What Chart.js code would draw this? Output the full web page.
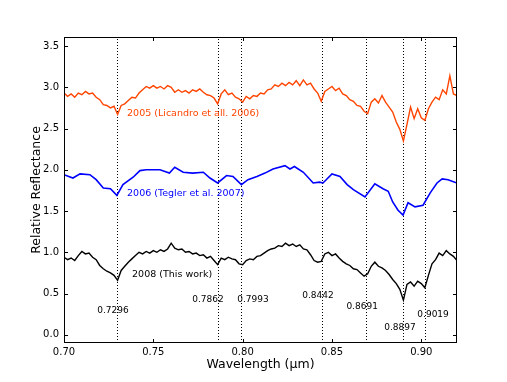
<!DOCTYPE html>
<html>
<head>
<meta charset="utf-8">
<script src="https://cdn.jsdelivr.net/npm/chart.js@4.4.1/dist/chart.umd.min.js"></script>
<style>
  html, body { margin: 0; padding: 0; background: #fff; }
  canvas { display: block; }
</style>
</head>
<body>
<canvas id="spec" width="507" height="382"></canvas>
<script>
/* data */
const wavelength = [
  0.700, 0.702, 0.704, 0.706, 0.708, 0.710, 0.712, 0.714, 0.716, 0.718,
  0.720, 0.722, 0.724, 0.726, 0.728, 0.730, 0.732, 0.734, 0.736, 0.738,
  0.740, 0.742, 0.744, 0.746, 0.748, 0.750, 0.752, 0.754, 0.756, 0.758,
  0.760, 0.762, 0.764, 0.766, 0.768, 0.770, 0.772, 0.774, 0.776, 0.778,
  0.780, 0.782, 0.784, 0.786, 0.788, 0.790, 0.792, 0.794, 0.796, 0.798,
  0.800, 0.802, 0.804, 0.806, 0.808, 0.810, 0.812, 0.814, 0.816, 0.818,
  0.820, 0.822, 0.824, 0.826, 0.828, 0.830, 0.832, 0.834, 0.836, 0.838,
  0.840, 0.842, 0.844, 0.846, 0.848, 0.850, 0.852, 0.854, 0.856, 0.858,
  0.860, 0.862, 0.864, 0.866, 0.868, 0.870, 0.872, 0.874, 0.876, 0.878,
  0.880, 0.882, 0.884, 0.886, 0.888, 0.890, 0.892, 0.894, 0.896, 0.898,
  0.900, 0.902, 0.904, 0.906, 0.908, 0.910, 0.912, 0.914, 0.916, 0.918,
  0.920
];

const refl2005 = [
  2.93, 2.89, 2.92, 2.88, 2.93, 2.91, 2.95, 2.92, 2.93, 2.88,
  2.85, 2.79, 2.78, 2.75, 2.77, 2.67, 2.78, 2.80, 2.84, 2.88,
  2.87, 2.93, 2.97, 3.01, 2.99, 3.02, 2.99, 3.01, 2.98, 3.02,
  3.00, 2.94, 2.97, 2.94, 2.96, 2.93, 2.97, 2.95, 2.98, 2.94,
  2.91, 2.90, 2.87, 2.80, 2.92, 2.97, 2.91, 2.93, 2.88, 2.86,
  2.82, 2.89, 2.86, 2.90, 2.89, 2.93, 2.92, 2.97, 2.98, 3.03,
  3.01, 3.05, 3.02, 3.06, 3.03, 3.08, 3.02, 3.09, 3.03, 3.05,
  2.98, 2.93, 2.83, 2.95, 2.98, 3.01, 2.96, 2.99, 2.92, 2.90,
  2.85, 2.83, 2.78, 2.77, 2.71, 2.68, 2.82, 2.86, 2.81, 2.90,
  2.82, 2.76, 2.70, 2.58, 2.49, 2.35, 2.55, 2.76, 2.62, 2.74,
  2.63, 2.60, 2.74, 2.82, 2.88, 2.85, 2.97, 2.92, 3.14, 2.92,
  2.90
];

const refl2008 = [
  0.94, 0.91, 0.93, 0.90, 0.96, 1.01, 0.98, 0.99, 0.94, 0.91,
  0.84, 0.80, 0.77, 0.75, 0.72, 0.66, 0.78, 0.83, 0.88, 0.92,
  0.96, 1.00, 0.98, 1.01, 0.99, 1.02, 1.00, 1.03, 1.01, 1.04,
  1.11, 1.05, 1.03, 1.04, 1.00, 1.01, 0.98, 0.99, 0.96, 0.97,
  0.93, 0.95, 0.90, 0.85, 0.93, 0.91, 0.94, 0.92, 0.91, 0.86,
  0.85, 0.90, 0.92, 0.91, 0.95, 0.96, 0.99, 1.02, 1.04, 1.05,
  1.08, 1.07, 1.11, 1.08, 1.10, 1.07, 1.09, 1.04, 1.03, 0.97,
  0.90, 0.88, 0.89, 0.98, 1.00, 0.96, 0.98, 0.93, 0.89, 0.86,
  0.84, 0.80, 0.79, 0.75, 0.71, 0.74, 0.83, 0.88, 0.83, 0.81,
  0.78, 0.73, 0.67, 0.62, 0.55, 0.42, 0.61, 0.64, 0.59, 0.65,
  0.62, 0.57, 0.72, 0.86, 0.91, 0.99, 0.96, 1.02, 0.98, 0.95,
  0.90
];

const wavelength2006 = [
  0.700, 0.705, 0.709, 0.7145, 0.718, 0.722, 0.726, 0.7296, 0.733, 0.7387,
  0.7425, 0.746, 0.7537, 0.759, 0.762, 0.7667, 0.772, 0.778, 0.7817, 0.786,
  0.791, 0.7946, 0.7993, 0.803, 0.808, 0.8125, 0.817, 0.8237, 0.8265, 0.829,
  0.834, 0.8395, 0.843, 0.845, 0.850, 0.8545, 0.8585, 0.862, 0.8685, 0.874,
  0.8786, 0.8815, 0.884, 0.887, 0.8898, 0.8926, 0.8965, 0.901, 0.905, 0.9088,
  0.9117, 0.915, 0.920
];
const refl2006 = [
  1.94, 1.90, 1.95, 1.94, 1.88, 1.78, 1.77, 1.69, 1.82, 1.91,
  1.99, 2.00, 2.00, 1.96, 2.03, 1.97, 1.96, 1.97, 1.90, 1.84,
  1.93, 1.92, 1.82, 1.88, 1.92, 1.96, 2.01, 2.05, 2.01, 2.04,
  1.97, 1.84, 1.85, 1.84, 1.95, 1.92, 1.82, 1.76, 1.67, 1.83,
  1.77, 1.74, 1.61, 1.51, 1.45, 1.60, 1.55, 1.57, 1.72, 1.84,
  1.89, 1.88, 1.84
];

// absorption features marked with dotted lines
const bandCentres = [0.7296, 0.7862, 0.7993, 0.8442, 0.8691, 0.8897, 0.9019];

const xTicks = [0.70, 0.75, 0.80, 0.85, 0.90];
const yTicks = [0.0, 0.5, 1.0, 1.5, 2.0, 2.5, 3.0, 3.5];

/* where the annotation texts sit (data units) */
const bandLabelPos = [
  [0.7274, 0.29], [0.7806, 0.42], [0.8058, 0.42], [0.8422, 0.47],
  [0.8669, 0.34], [0.8881, 0.085], [0.9066, 0.24]
];
const seriesLabels = [
  { text: "2005 (Licandro et all. 2006)", x: 0.7353, y: 2.68, color: "#ff4500" },
  { text: "2006 (Tegler et al. 2007)", x: 0.7353, y: 1.71, color: "#0000ff" },
  { text: "2008 (This work)", x: 0.7381, y: 0.73, color: "#000000" },
];

const FONT = "'DejaVu Sans', 'Liberation Sans', sans-serif";

const pts = (xs, ys) => xs.map((x, i) => ({ x, y: ys[i] }));

// matplotlib-ish frame: box, inward ticks on all sides, dotted band lines, texts
const mplFrame = {
  id: "mplFrame",
  beforeDatasetsDraw(chart) {
    const { ctx, chartArea: { top, bottom }, scales: { x } } = chart;
    ctx.save();
    ctx.strokeStyle = "#000";
    ctx.lineWidth = 1;
    ctx.setLineDash([1, 2]);
    bandCentres.forEach((w) => {
      const px = Math.round(x.getPixelForValue(w)) + 0.5;
      ctx.beginPath();
      ctx.moveTo(px, bottom);
      ctx.lineTo(px, top);
      ctx.stroke();
    });
    ctx.restore();
  },
  afterDatasetsDraw(chart) {
    const { ctx, chartArea: { left, right, top, bottom }, scales: { x, y } } = chart;
    ctx.save();
    ctx.strokeStyle = "#000";
    ctx.lineWidth = 1;
    ctx.strokeRect(left + 0.5, top + 0.5, right - left - 1, bottom - top - 1);

    const tl = 4;
    ctx.beginPath();
    xTicks.forEach((v) => {
      const px = Math.round(x.getPixelForValue(v)) + 0.5;
      ctx.moveTo(px, bottom); ctx.lineTo(px, bottom - tl);
      ctx.moveTo(px, top); ctx.lineTo(px, top + tl);
    });
    yTicks.forEach((v) => {
      const py = Math.round(y.getPixelForValue(v)) + 0.5;
      ctx.moveTo(left, py); ctx.lineTo(left + tl, py);
      ctx.moveTo(right, py); ctx.lineTo(right - tl, py);
    });
    ctx.stroke();

    ctx.fillStyle = "#000";
    ctx.font = "9px " + FONT;
    ctx.textAlign = "center";
    ctx.textBaseline = "middle";
    bandCentres.forEach((w, i) => {
      const [lx, ly] = bandLabelPos[i];
      ctx.fillText(w.toFixed(4), x.getPixelForValue(lx), y.getPixelForValue(ly));
    });

    ctx.font = "9.5px " + FONT;
    ctx.textAlign = "left";
    seriesLabels.forEach((s) => {
      ctx.fillStyle = s.color;
      ctx.fillText(s.text, x.getPixelForValue(s.x), y.getPixelForValue(s.y));
    });
    ctx.restore();
  },
};

new Chart(document.getElementById("spec"), {
  type: "scatter",
  data: {
    datasets: [
      { label: "2005", data: pts(wavelength, refl2005), borderColor: "#ff4500", borderWidth: 1.4 },
      { label: "2006", data: pts(wavelength2006, refl2006), borderColor: "#0000ff", borderWidth: 1.6 },
      { label: "2008", data: pts(wavelength, refl2008), borderColor: "#000000", borderWidth: 1.4 },
    ],
  },
  options: {
    responsive: false,
    animation: false,
    devicePixelRatio: 1,
    showLine: true,
    elements: { point: { radius: 0, hoverRadius: 0 }, line: { tension: 0 } },
    layout: { padding: { top: 37, right: 50, left: 0, bottom: 0 } },
    plugins: { legend: { display: false }, tooltip: { enabled: false } },
    scales: {
      x: {
        type: "linear",
        min: 0.70,
        max: 0.92,
        grid: { display: false, drawTicks: false },
        border: { display: false },
        afterBuildTicks: (s) => { s.ticks = xTicks.map((value) => ({ value })); },
        afterFit: (s) => { s.height = 39; },
        ticks: {
          padding: 3,
          color: "#000",
          font: { family: FONT, size: 10 },
          callback: (v) => Number(v).toFixed(2),
        },
        title: {
          display: true,
          text: "Wavelength (μm)",
          color: "#000",
          font: { family: FONT, size: 12.5 },
          padding: { top: 0, bottom: 10 },
        },
      },
      y: {
        type: "linear",
        min: -0.1,
        max: 3.61,
        grid: { display: false, drawTicks: false },
        border: { display: false },
        afterBuildTicks: (s) => { s.ticks = yTicks.map((value) => ({ value })); },
        afterFit: (s) => { s.width = 64; },
        ticks: {
          padding: 5,
          color: "#000",
          font: { family: FONT, size: 10 },
          callback: (v) => Number(v).toFixed(1),
        },
        title: {
          display: true,
          text: "Relative Reflectance",
          color: "#000",
          font: { family: FONT, size: 12.5 },
          padding: { top: 29, bottom: 0 },
        },
      },
    },
  },
  plugins: [mplFrame],
});
</script>
</body>
</html>
